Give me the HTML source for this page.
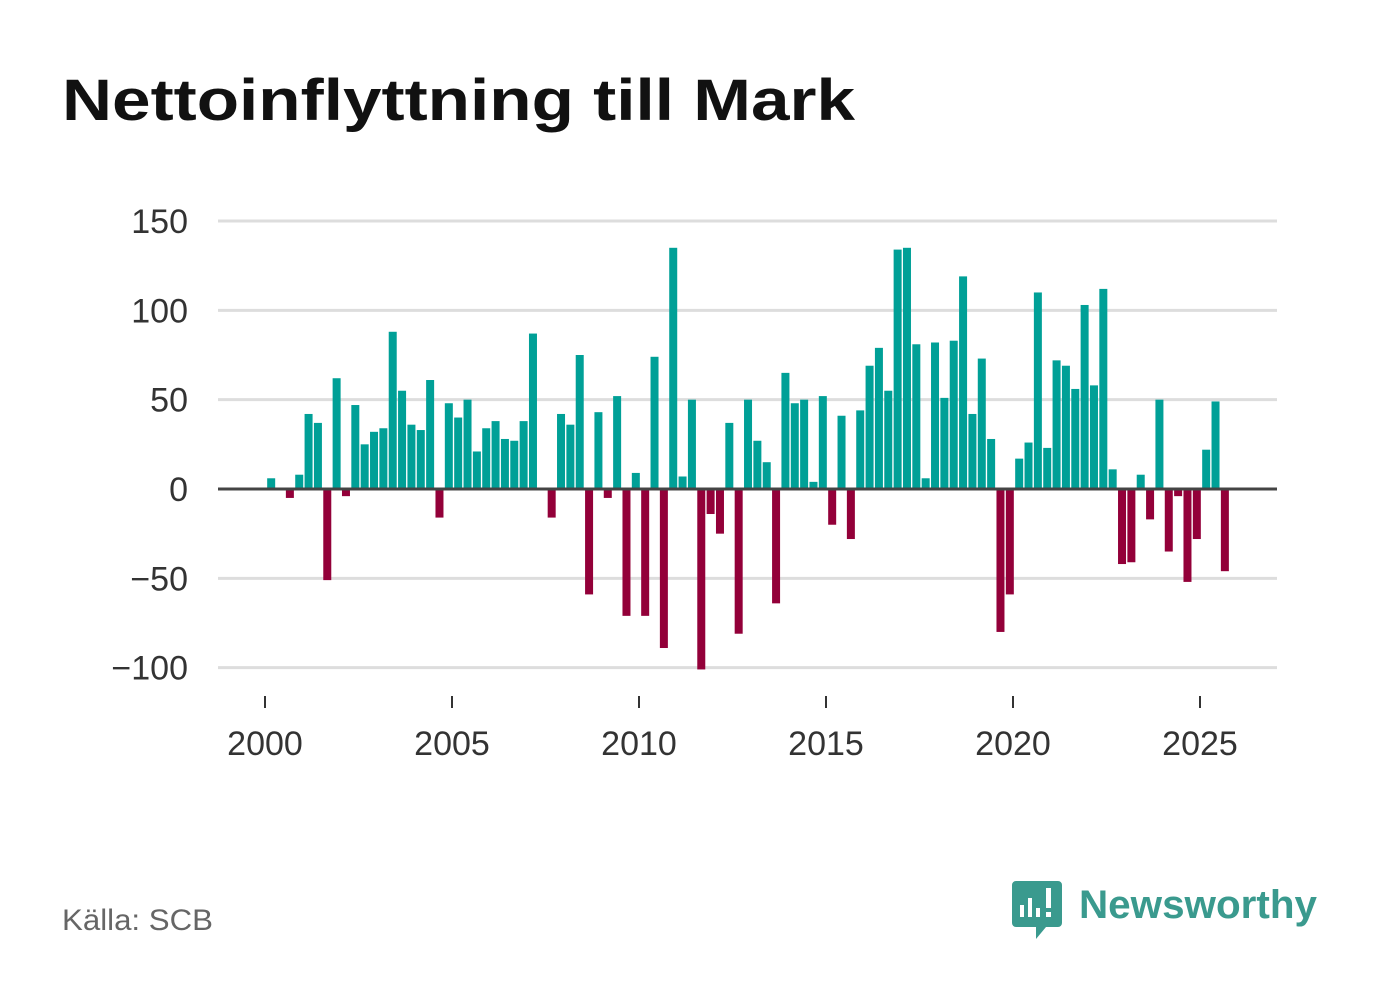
<!DOCTYPE html>
<html><head><meta charset="utf-8"><style>
body{margin:0;background:#fff;width:1382px;height:999px;overflow:hidden;font-family:"Liberation Sans",sans-serif}
</style></head><body>
<svg width="1382" height="999">
<text x="62" y="120" font-size="58" font-weight="bold" fill="#111" textLength="793" lengthAdjust="spacingAndGlyphs">Nettoinflyttning till Mark</text>
<g id="grid"></g><g id="bars"></g><g id="xaxis"></g>
<text x="62" y="930" font-size="30" fill="#666" textLength="151" lengthAdjust="spacingAndGlyphs">Källa: SCB</text>
<g>
<path d="M1016 881 h42 a4 4 0 0 1 4 4 v38 a4 4 0 0 1 -4 4 h-12 l-10 12 v-12 h-20 a4 4 0 0 1 -4 -4 v-38 a4 4 0 0 1 4 -4z" fill="#3a9a8e"/>
<rect x="1020" y="905" width="4" height="12" fill="#fff"/><rect x="1028" y="898" width="4" height="19" fill="#fff"/><rect x="1036" y="908" width="4" height="9" fill="#fff"/><rect x="1046" y="888" width="5" height="20" fill="#fff"/><rect x="1046" y="912" width="5" height="5" fill="#fff"/>
<text x="1079" y="918" font-size="40" font-weight="bold" fill="#3a9a8e" textLength="238" lengthAdjust="spacingAndGlyphs">Newsworthy</text>
</g>
</svg>
<script>
const years=["2000","2005","2010","2015","2020","2025"];
const yTicks=[150,100,50,0,-50,-100];
const yTickLabels=["150","100","50","0","−50","−100"];
const values=[6,0,-5,8,42,37,-51,62,-4,47,25,32,34,88,55,36,33,61,-16,48,40,50,21,34,38,28,27,38,87,0,-16,42,36,75,-59,43,-5,52,-71,9,-71,74,-89,135,7,50,-101,-14,-25,37,-81,50,27,15,-64,65,48,50,4,52,-20,41,-28,44,69,79,55,134,135,81,6,82,51,83,119,42,73,28,-80,-59,17,26,110,23,72,69,56,103,58,112,11,-42,-41,8,-17,50,-35,-4,-52,-28,22,49,-46];
const NS="http://www.w3.org/2000/svg";
const y=v=>489-v*(268/150);
const xYear=yr=>265+(yr-2000)*37.4;
const xq=i=>xYear(2000+(i+0.5)/4)+1.5;
function mk(t,a,p){const e=document.createElementNS(NS,t);for(const k in a)e.setAttribute(k,a[k]);p.appendChild(e);return e;}
const grid=document.getElementById('grid');
yTicks.forEach((t,i)=>{
  if(t!==0){const l=mk('line',{x1:218,x2:1277,y1:y(t),y2:y(t),stroke:'#ddd','stroke-width':3},grid);
  
  }
  const tx=mk('text',{x:188,y:y(t)+12,'text-anchor':'end','font-size':34,fill:'#333'},grid);
  tx.textContent=yTickLabels[i];
  
  
});
const bars=document.getElementById('bars');
values.forEach((v,i)=>{
  const r=mk('rect',{x:xq(i)-4,y:v>=0?y(v):y(0),width:8,height:Math.abs(y(v)-y(0)),fill:v>=0?'#00a097':'#930039'},bars);
  
  
});
const z=mk('line',{x1:218,x2:1277,y1:y(0),y2:y(0),stroke:'#444','stroke-width':3},bars);


const xa=document.getElementById('xaxis');
years.forEach(yr=>{
  const x=xYear(+yr);
  const t=mk('line',{x1:x,x2:x,y1:696,y2:708,stroke:'#333','stroke-width':2},xa);
  
  
  const tx=mk('text',{x:x,y:755,'text-anchor':'middle','font-size':34,fill:'#333'},xa);
  tx.textContent=yr;
  
  
});
</script>
</body></html>
